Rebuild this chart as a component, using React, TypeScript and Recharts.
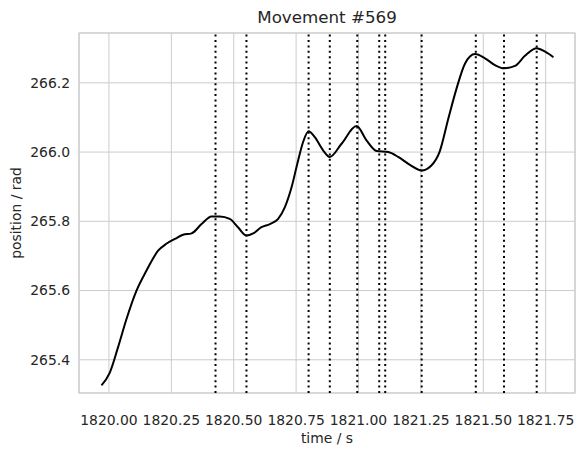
import { LineChart, Line, XAxis, YAxis, CartesianGrid, ReferenceLine, ReferenceArea } from "recharts";

// position trace (time in s, position in rad)
const times = [
  1819.970, 1820.003, 1820.036, 1820.070, 1820.110, 1820.150, 1820.197, 1820.230, 1820.264, 1820.297,
  1820.331, 1820.371, 1820.411, 1820.444, 1820.484, 1820.517, 1820.551, 1820.578, 1820.611, 1820.645,
  1820.678, 1820.705, 1820.732, 1820.758, 1820.778, 1820.800, 1820.825, 1820.858, 1820.885, 1820.932,
  1820.992, 1821.032, 1821.073, 1821.119, 1821.159, 1821.206, 1821.253, 1821.290, 1821.326, 1821.360,
  1821.393, 1821.427, 1821.467, 1821.507, 1821.547, 1821.583, 1821.627, 1821.667, 1821.714, 1821.748,
  1821.781,
];
const positions = [
  265.326, 265.362, 265.435, 265.517, 265.599, 265.657, 265.715, 265.735, 265.749, 265.761,
  265.765, 265.792, 265.814, 265.814, 265.807, 265.783, 265.759, 265.765, 265.783, 265.792,
  265.807, 265.841, 265.899, 265.976, 266.029, 266.060, 266.043, 266.005, 265.986, 266.024,
  266.075, 266.034, 266.003, 266.000, 265.986, 265.963, 265.947, 265.960, 266.003, 266.097,
  266.184, 266.256, 266.283, 266.271, 266.251, 266.242, 266.249, 266.278, 266.300, 266.290,
  266.274,
];

// dotted event markers
const events = [
  1820.427, 1820.551, 1820.800, 1820.885, 1820.995, 1821.083, 1821.107, 1821.253, 1821.470, 1821.583, 1821.714,
];

const xTicks = [1820.0, 1820.25, 1820.5, 1820.75, 1821.0, 1821.25, 1821.5, 1821.75];
const yTicks = [265.4, 265.6, 265.8, 266.0, 266.2];
const xDomain = [1819.88, 1821.8675];
const yDomain = [265.304, 266.344];

const data = times.map((t, i) => ({ t, pos: positions[i] }));

const font = "'DejaVu Sans', sans-serif";
const textColor = "#262626";
const gridColor = "#cccccc";
const tick = { fontSize: 13.9, fill: textColor, fontFamily: font };

export default function App() {
  return (
    <div style={{ position: "absolute", left: 0, top: 0, width: 584, height: 455, background: "#fff", fontFamily: font }}>
      <div
        style={{
          position: "absolute",
          left: 79,
          width: 496,
          top: 6,
          textAlign: "center",
          fontSize: 16.7,
          color: textColor,
          lineHeight: "22px",
        }}
      >
        Movement #569
      </div>
      <div
        style={{
          position: "absolute",
          left: 79,
          width: 496,
          top: 429,
          textAlign: "center",
          fontSize: 13.9,
          color: textColor,
          lineHeight: "18px",
        }}
      >
        time / s
      </div>
      <div
        style={{
          position: "absolute",
          left: 16 - 100,
          top: 213 - 9,
          width: 200,
          textAlign: "center",
          fontSize: 13.9,
          color: textColor,
          lineHeight: "18px",
          transform: "rotate(-90deg)",
        }}
      >
        position / rad
      </div>
      <LineChart
        width={584}
        height={455}
        data={data}
        margin={{ top: 33, right: 9, bottom: 0, left: 0 }}
        style={{ position: "absolute", left: 0, top: 0 }}
      >
        <CartesianGrid stroke={gridColor} strokeWidth={1} />
        <XAxis
          type="number"
          dataKey="t"
          domain={xDomain}
          ticks={xTicks}
          allowDataOverflow
          height={62}
          tickSize={0}
          tickMargin={22}
          axisLine={false}
          tickLine={false}
          tick={tick}
          tickFormatter={(v: number) => v.toFixed(2)}
        />
        <YAxis
          type="number"
          domain={yDomain}
          ticks={yTicks}
          allowDataOverflow
          width={79}
          tickSize={0}
          tickMargin={9}
          axisLine={false}
          tickLine={false}
          tick={tick}
          tickFormatter={(v: number) => v.toFixed(1)}
        />
        <ReferenceArea
          x1={xDomain[0]}
          x2={xDomain[1]}
          y1={yDomain[0]}
          y2={yDomain[1]}
          fill="none"
          stroke={gridColor}
          strokeWidth={1.2}
          fillOpacity={0}
        />
        {events.map((e) => (
          <ReferenceLine key={e} x={e} stroke="#000" strokeWidth={2} strokeDasharray="2 3.4" />
        ))}
        <Line
          type="monotone"
          dataKey="pos"
          stroke="#000"
          strokeWidth={2}
          dot={false}
          isAnimationActive={false}
        />
      </LineChart>
    </div>
  );
}
